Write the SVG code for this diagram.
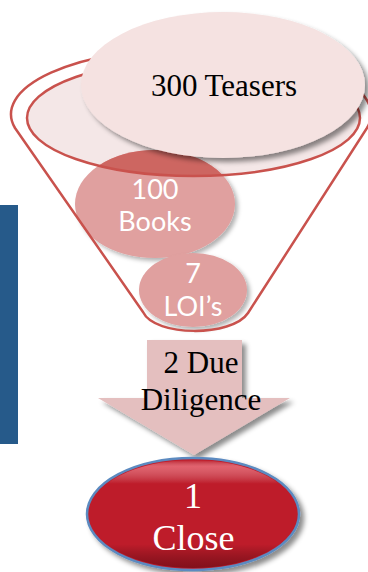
<svg xmlns="http://www.w3.org/2000/svg" width="368" height="572" viewBox="0 0 368 572">
  <defs>
    <style>
      .rim { fill: none; stroke: #c9524d; stroke-width: 2.5; stroke-linejoin: round; }
      .stage { fill: #e0a09f; }
      .serif { font-family: "Liberation Serif", "Times New Roman", serif; text-anchor: middle; }
      .sans { font-family: Lato, "Open Sans", sans-serif; text-anchor: middle; fill: #ffffff; font-size: 27px; }
    </style>
    <filter id="shadow" x="-20%" y="-20%" width="150%" height="150%">
      <feDropShadow dx="4" dy="4" stdDeviation="2.5" flood-color="#000000" flood-opacity="0.45"/>
    </filter>
    <filter id="softShadow" x="-20%" y="-20%" width="150%" height="150%">
      <feDropShadow dx="3" dy="3" stdDeviation="2" flood-color="#000000" flood-opacity="0.3"/>
    </filter>
    <clipPath id="bowl">
      <ellipse cx="193.5" cy="118" rx="166.5" ry="58"/>
    </clipPath>
    <linearGradient id="gloss" x1="0" y1="0" x2="0" y2="1">
      <stop offset="0" stop-color="#ffffff" stop-opacity="0.0"/>
      <stop offset="0.06" stop-color="#ff9aa5" stop-opacity="0.55"/>
      <stop offset="0.22" stop-color="#ffffff" stop-opacity="0.0"/>
      <stop offset="0.78" stop-color="#000000" stop-opacity="0.0"/>
      <stop offset="1" stop-color="#3a0008" stop-opacity="0.45"/>
    </linearGradient>
  </defs>

  <rect id="side-bar" x="0" y="205" width="18" height="239" fill="#265a8a"/>

  <g id="funnel">
    <ellipse cx="193.5" cy="118" rx="166.5" ry="58" fill="#f4e7e7"/>
  </g>

  <g id="books">
    <ellipse class="stage" cx="155" cy="204" rx="80" ry="54" filter="url(#softShadow)"/>
  </g>
  <g id="lois">
    <ellipse class="stage" cx="193" cy="290" rx="54" ry="37" filter="url(#softShadow)"/>
  </g>

  <!-- where the Books stage sits inside the bowl -->
  <ellipse cx="155" cy="204" rx="80" ry="54" fill="#cd6661" clip-path="url(#bowl)"/>

  <g id="funnel-outline">
    <path class="rim" d="M15,128 A180,66 0 1 1 367,128 L248,313 C232,337 155,337 143,312 Z"/>
    <ellipse class="rim" cx="193.5" cy="118" rx="166.5" ry="58"/>
  </g>

  <g id="books-label">
    <text class="sans" x="155" y="199">100</text>
    <text class="sans" x="155" y="231">Books</text>
  </g>
  <g id="lois-label">
    <text class="sans" x="193" y="283">7</text>
    <text class="sans" x="193" y="316">LOI’s</text>
  </g>

  <g id="teasers">
    <ellipse cx="223" cy="85" rx="142" ry="73" fill="#f5e2e1" filter="url(#shadow)"/>
    <text class="serif" x="224" y="96" font-size="31" fill="#000000">300 Teasers</text>
  </g>

  <g id="due-diligence">
    <path d="M147,340 H242 V398 H290 L194,455 L98,398 H147 Z" fill="#e4bfbf" filter="url(#shadow)"/>
    <text class="serif" x="201" y="373" font-size="31" fill="#000000">2 Due</text>
    <text class="serif" x="201" y="410" font-size="31" fill="#000000">Diligence</text>
  </g>

  <g id="close">
    <ellipse cx="193" cy="514" rx="106" ry="56" fill="#be1c2b" stroke="#5b8ac0" stroke-width="2.5" filter="url(#shadow)"/>
    <ellipse cx="193" cy="514" rx="104" ry="54" fill="url(#gloss)"/>
    <text class="serif" x="193" y="508" font-size="36" fill="#ffffff">1</text>
    <text class="serif" x="193.5" y="550" font-size="36" fill="#ffffff">Close</text>
  </g>

  <g id="connectors"/>
</svg>
